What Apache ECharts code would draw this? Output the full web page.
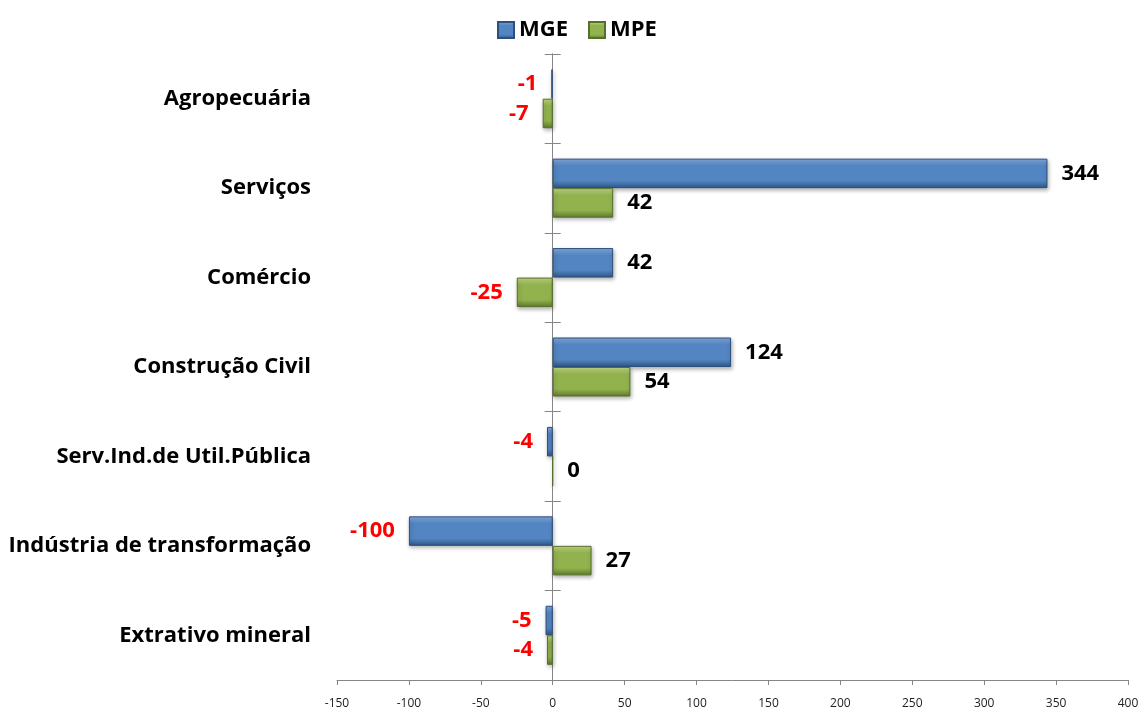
<!DOCTYPE html>
<html>
<head>
<meta charset="utf-8">
<script src="https://cdn.jsdelivr.net/npm/echarts@6/dist/echarts.min.js"></script>
<style>
  html, body { margin: 0; padding: 0; background: #fff; }
  #chart { width: 1140px; height: 709px; }
</style>
</head>
<body>
<div id="chart"></div>
<script>
// setores, de baixo para cima
const categories = ['Extrativo mineral', 'Indústria de transformação', 'Serv.Ind.de Util.Pública',
  'Construção Civil', 'Comércio', 'Serviços', 'Agropecuária'];
const mge = [-5, -100, -4, 124, 42, 344, -1];
const mpe = [-4, 27, 0, 54, -25, 42, -7];
const xTicks = { min: -150, max: 400, interval: 50 };

const font = '"Open Sans", "Liberation Sans", sans-serif';
const axisGray = '#868686';

function bevel(light, mid, dark) {
  return new echarts.graphic.LinearGradient(0, 0, 0, 1, [
    { offset: 0, color: light },
    { offset: 0.25, color: mid },
    { offset: 0.75, color: mid },
    { offset: 1, color: dark }
  ]);
}

const blue = bevel('#85acdf', '#5285c2', '#2f5686');
const green = bevel('#c2db84', '#92b24e', '#5f7a2c');

// rotulo fora da barra, vermelho se negativo
function withLabels(values) {
  return values.map(v => ({
    value: v,
    label: {
      position: v < 0 ? 'left' : 'right',
      color: v < 0 ? '#ff0000' : '#000000'
    }
  }));
}

const labelStyle = {
  show: true,
  distance: 14,
  fontFamily: font,
  fontWeight: 'bold',
  fontSize: 22
};

const gridRect = { left: 337, right: 12, top: 54, bottom: 29, outerBoundsMode: 'none', containLabel: false };

const chart = echarts.init(document.getElementById('chart'));
chart.setOption({
  animation: false,
  legend: {
    top: 14,
    left: 492,
    itemWidth: 16,
    itemHeight: 16,
    itemGap: 20,
    icon: 'rect',
    data: ['MGE', 'MPE'],
    textStyle: { fontFamily: font, fontWeight: 'bold', fontSize: 22, color: '#000' }
  },
  grid: [gridRect, Object.assign({}, gridRect)],
  xAxis: [
    {
      type: 'value',
      min: xTicks.min,
      max: xTicks.max,
      interval: xTicks.interval,
      splitLine: { show: false },
      axisLine: { show: true, onZero: false, lineStyle: { color: axisGray } },
      axisTick: { show: true, length: 5, lineStyle: { color: axisGray } },
      axisLabel: { fontFamily: font, fontSize: 12, color: '#222', margin: 18 }
    },
    {
      // eixo auxiliar (oculto) so para a segunda grade
      gridIndex: 1,
      type: 'value',
      min: xTicks.min,
      max: xTicks.max,
      interval: xTicks.interval,
      show: false
    }
  ],
  yAxis: [
    {
      type: 'category',
      data: categories,
      axisLine: { show: true, onZero: true, lineStyle: { color: axisGray } },
      axisTick: { show: true, length: 8, lineStyle: { color: axisGray } },
      axisLabel: { margin: 26, fontFamily: font, fontWeight: 'bold', fontSize: 22, color: '#000' }
    },
    {
      // mesmas marcas do lado de dentro -> tracos cruzando o eixo
      gridIndex: 1,
      type: 'category',
      data: categories,
      axisLine: { show: true, onZero: true, lineStyle: { color: axisGray } },
      axisTick: { show: true, inside: true, length: 8, lineStyle: { color: axisGray } },
      axisLabel: { show: false }
    }
  ],
  series: [
    {
      name: 'MGE',
      type: 'bar',
      data: withLabels(mge),
      barGap: '0%',
      barCategoryGap: '34%',
      itemStyle: {
        color: blue, borderColor: '#2c4f7c', borderWidth: 1,
        shadowBlur: 4, shadowOffsetX: 1, shadowOffsetY: 2, shadowColor: 'rgba(0,0,0,0.3)'
      },
      label: labelStyle
    },
    {
      name: 'MPE',
      type: 'bar',
      data: withLabels(mpe),
      barGap: '0%',
      barCategoryGap: '34%',
      itemStyle: {
        color: green, borderColor: '#55702a', borderWidth: 1,
        shadowBlur: 4, shadowOffsetX: 1, shadowOffsetY: 2, shadowColor: 'rgba(0,0,0,0.3)'
      },
      label: labelStyle
    }
  ]
});
</script>
</body>
</html>
